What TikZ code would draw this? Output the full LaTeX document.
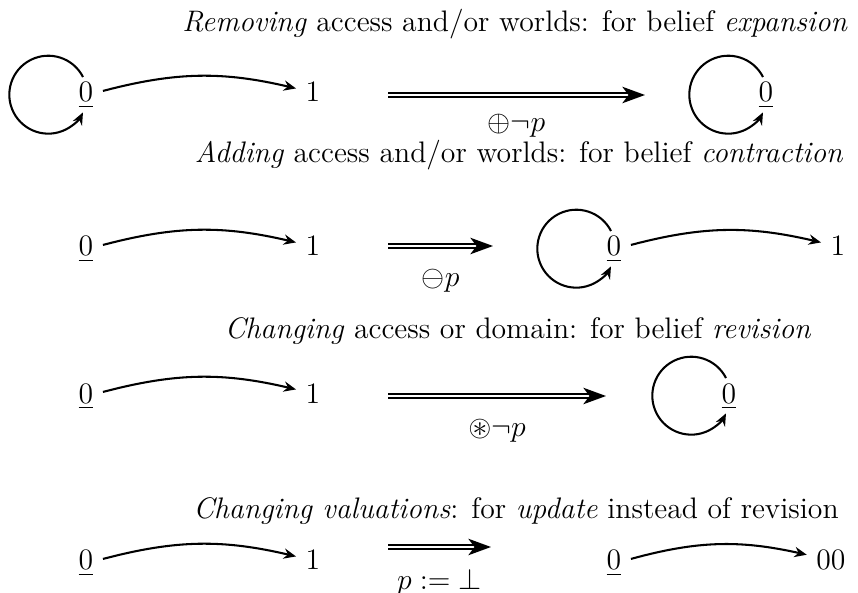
\documentclass[tikz,border=0pt]{standalone}
\usepackage{amsmath}
\usepackage{amssymb}
\usepackage{tikz}
\usetikzlibrary{arrows.meta, positioning, calc}
\tikzstyle{world} = [anchor=base, inner sep=4.5pt]
\tikzstyle{title} = [anchor=base, inner sep=1pt]
\tikzstyle{op} = [inner sep=1pt]
\tikzstyle{access} = [line width=1pt, -{Stealth[length=6pt, width=5pt, inset=2pt]}, bend left=14]
\tikzstyle{change} = [double, line width=0.9pt, double distance=1.2pt, -{Stealth[length=11pt, width=8pt, inset=3pt]}]

\begin{document}
\begin{tikzpicture}[x=0.485pt, y=-0.485pt, every node/.style={font=\Large}]
  \useasboundingbox (0,0) rectangle (858,593);

  % expansion
  \node[title] (t1) at (515, 32) {\emph{Removing} access and/or worlds: for belief \emph{expansion}};
  \node[world] (a0) at (86, 102) {$\underline{0}$};
  \node[world] (a1) at (313, 102) {$1$};
  \node[world] (b0) at (766, 102) {$\underline{0}$};
  \coordinate (s1) at (388, 95);
  \coordinate (e1) at (645, 95);
  \draw[access] (a0) to (a1);
  \draw[line width=1pt, -{Stealth[length=6pt, width=5pt, inset=2pt]}] (a0.base) ++(-3,-25) arc[start angle=27, end angle=333, radius=18.9pt];
  \draw[line width=1pt, -{Stealth[length=6pt, width=5pt, inset=2pt]}] (b0.base) ++(-3,-25) arc[start angle=27, end angle=333, radius=18.9pt];
  \draw[change] (s1) -- (e1) node[op, midway, below=8pt] (l1) {$\oplus\neg p$};

  % contraction
  \node[title] (t2) at (519, 163) {\emph{Adding} access and/or worlds: for belief \emph{contraction}};
  \node[world] (c0) at (86, 256) {$\underline{0}$};
  \node[world] (c1) at (313, 256) {$1$};
  \node[world] (d0) at (614, 256) {$\underline{0}$};
  \node[world] (d1) at (838, 256) {$1$};
  \coordinate (s2) at (388, 246);
  \coordinate (e2) at (493, 246);
  \draw[access] (c0) to (c1);
  \draw[access] (d0) to (d1);
  \draw[line width=1pt, -{Stealth[length=6pt, width=5pt, inset=2pt]}] (d0.base) ++(-3,-25) arc[start angle=27, end angle=333, radius=18.9pt];
  \draw[change] (s2) -- (e2) node[op, midway, below=10pt] (l2) {$\ominus p$};

  % revision
  \node[title] (t3) at (518, 339) {\emph{Changing} access or domain: for belief \emph{revision}};
  \node[world] (f0) at (86, 403) {$\underline{0}$};
  \node[world] (f1) at (313, 403) {$1$};
  \node[world] (g0) at (729, 403) {$\underline{0}$};
  \coordinate (s3) at (388, 396);
  \coordinate (e3) at (606, 396);
  \draw[access] (f0) to (f1);
  \draw[line width=1pt, -{Stealth[length=6pt, width=5pt, inset=2pt]}] (g0.base) ++(-3,-25) arc[start angle=27, end angle=333, radius=18.9pt];
  \draw[change] (s3) -- (e3) node[op, midway, below=10pt] (l3) {$\circledast\neg p$};

  % update
  \node[title] (t4) at (516, 519) {\emph{Changing valuations}: for \emph{update} instead of revision};
  \node[world] (h0) at (86, 570) {$\underline{0}$};
  \node[world] (h1) at (313, 570) {$1$};
  \node[world] (k0) at (614, 570) {$\underline{0}$};
  \node[world] (k1) at (831, 570) {$00$};
  \coordinate (s4) at (388, 547);
  \coordinate (e4) at (491, 547);
  \draw[access] (h0) to (h1);
  \draw[access] (k0) to (k1);
  \draw[change] (s4) -- (e4) node[op, midway, below=9pt] (l4) {$p := \bot$};
\end{tikzpicture}
\end{document}
